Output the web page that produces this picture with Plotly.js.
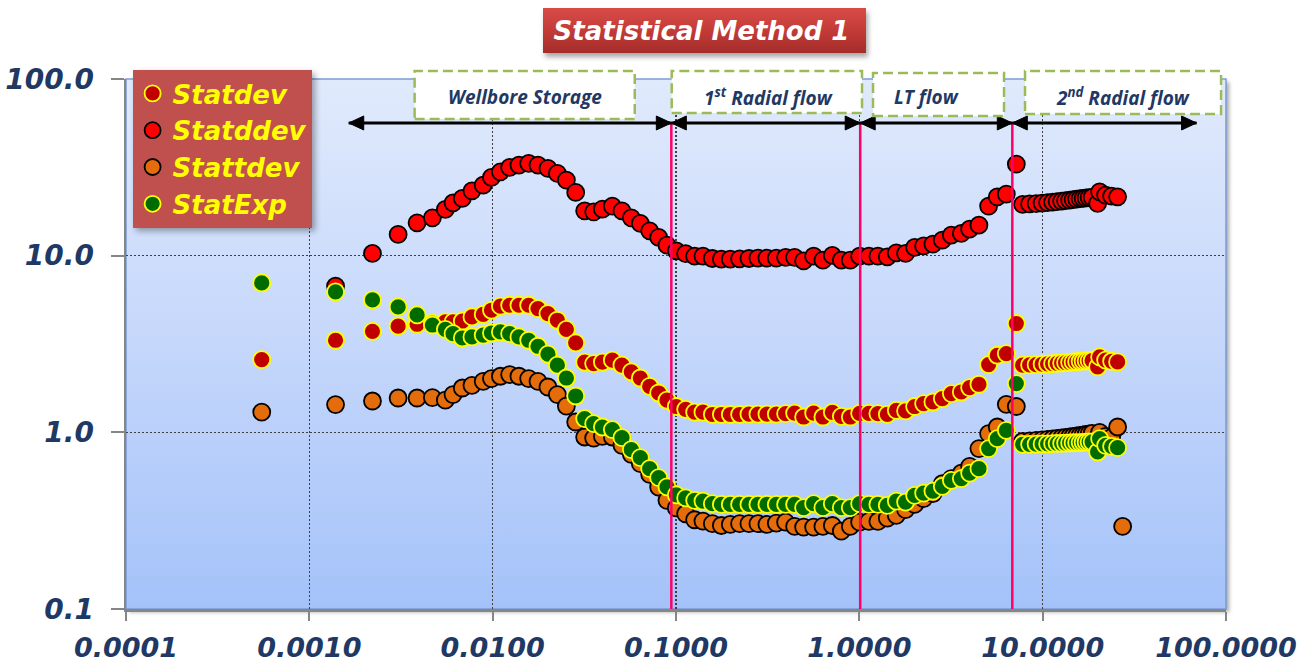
<!DOCTYPE html>
<html>
<head>
<meta charset="utf-8">
<script src="https://cdn.plot.ly/plotly-3.0.1.min.js"></script>
<style>
  html, body { margin: 0; padding: 0; background: #ffffff; }
  #wrap { position: relative; width: 1314px; height: 663px; overflow: hidden; }
  /* gradient plot area and title plate sit behind the transparent plotly layers */
  #plotBg { position: absolute; left: 126px; top: 79px; width: 1100px; height: 530px;
    background: linear-gradient(to bottom, #e0eafc 0%, #c8d9fb 45%, #a4c2f9 100%);
    box-shadow: 3px 3px 4px rgba(0,0,0,0.35); }
  #titleBg { position: absolute; left: 543px; top: 8px; width: 323px; height: 45px;
    background: linear-gradient(to bottom, #d84c48 0%, #c33b37 50%, #a32d2a 100%);
    box-shadow: 2px 4px 5px rgba(0,0,0,0.35); }
  #chart { position: absolute; left: 0; top: 0; width: 1314px; height: 663px; }
  .legend .bg { filter: drop-shadow(3px 3px 3px rgba(0,0,0,0.35)); }
</style>
</head>
<body>
<div id="wrap">
  <div id="plotBg"></div>
  <div id="titleBg"></div>
  <div id="chart"></div>
</div>
<script>
// elapsed time (hr) for every sample
const time = [
  0.00055, 0.00139, 0.00221, 0.00305, 0.00387, 0.00469, 0.00552, 0.00608, 0.00683, 0.00771,
  0.00888, 0.00985, 0.01102, 0.01238, 0.01391, 0.01572, 0.01767, 0.02002, 0.02254, 0.02524,
  0.02837, 0.03175, 0.03556, 0.03967, 0.04496, 0.05072, 0.05706, 0.06390, 0.07184, 0.08042,
  0.08926, 0.1004, 0.1129, 0.1264, 0.1403, 0.1579, 0.1768, 0.1978, 0.2223, 0.2500,
  0.2799, 0.3133, 0.3526, 0.3963, 0.4437, 0.4968, 0.5633, 0.6330, 0.7124, 0.7978,
  0.8932, 1.004, 1.128, 1.263, 1.421, 1.591, 1.788, 2.003, 2.242, 2.520,
  2.836, 3.176, 3.600, 3.996, 4.491, 5.072, 5.656, 6.334, 7.183,
  7.772, 8.488, 9.211, 9.931, 10.64, 11.33, 11.99, 12.69, 13.34, 14.03,
  14.66, 15.32, 16.01, 16.62, 17.26, 17.92, 18.61,
  19.94, 20.45, 22.05, 23.77, 25.63, 27.30
];

const statdev = [
  2.58, 3.32, 3.73, 3.99, 4.09, 4.15, 4.22, 4.22, 4.26, 4.50,
  4.65, 4.91, 5.18, 5.24, 5.24, 5.24, 5.02, 4.70, 4.31, 3.83,
  3.21, 2.50, 2.45, 2.50, 2.56, 2.40, 2.20, 2.03, 1.82, 1.67,
  1.52, 1.40, 1.35, 1.30, 1.30, 1.262, 1.262, 1.262, 1.262, 1.267,
  1.267, 1.267, 1.267, 1.276, 1.286, 1.221, 1.286, 1.221, 1.298, 1.232,
  1.221, 1.281, 1.281, 1.276, 1.265, 1.333, 1.321, 1.40, 1.454, 1.485,
  1.552, 1.657, 1.692, 1.792, 1.871, 2.418, 2.731, 2.792, 4.13,
  2.40, 2.406, 2.416, 2.429, 2.438, 2.448, 2.460, 2.470, 2.479, 2.492,
  2.502, 2.512, 2.525, 2.532, 2.538, 2.545, 2.551,
  2.344, 2.671, 2.563, 2.525, 2.502, null
];

const statddev = [
  null, 6.72, 10.29, 13.19, 15.34, 16.38, 18.27, 19.92, 21.09, 23.29,
  25.08, 27.74, 29.84, 31.60, 32.56, 33.30, 32.56, 31.20, 29.22, 26.78,
  22.81, 17.94, 17.71, 18.34, 19.08, 17.94, 16.38, 15.22, 13.82, 12.68,
  11.47, 10.65, 10.26, 9.94, 9.94, 9.64, 9.55, 9.55, 9.59, 9.64,
  9.68, 9.68, 9.68, 9.77, 9.77, 9.34, 9.94, 9.43, 10.03, 9.43,
  9.43, 9.94, 9.94, 9.94, 9.84, 10.37, 10.29, 11.13, 11.36, 11.62,
  12.24, 13.07, 13.36, 14.13, 14.89, 19.08, 21.54, 22.31, 32.99,
  19.51, 19.63, 19.71, 19.84, 19.97, 20.10, 20.23, 20.36, 20.49, 20.63,
  20.76, 20.90, 21.03, 21.12, 21.23, 21.32, 21.40,
  19.76, 22.99, 22.02, 21.74, 21.54, null
];

const stattdev = [
  1.303, 1.436, 1.504, 1.564, 1.564, 1.573, 1.52, 1.635, 1.782, 1.846,
  1.945, 2.015, 2.077, 2.123, 2.077, 2.015, 1.945, 1.805, 1.635, 1.409,
  1.144, 0.941, 0.928, 0.949, 0.941, 0.844, 0.751, 0.665, 0.578, 0.490,
  0.412, 0.3735, 0.346, 0.320, 0.3144, 0.304, 0.297, 0.301, 0.304, 0.304,
  0.304, 0.301, 0.306, 0.310, 0.2934, 0.2908, 0.2908, 0.2934, 0.297, 0.2760,
  0.2934, 0.310, 0.3132, 0.3132, 0.327, 0.3386, 0.3648, 0.391, 0.421, 0.4494,
  0.512, 0.547, 0.588, 0.642, 0.809, 0.983, 1.072, 1.441, 1.40,
  0.889, 0.895, 0.901, 0.907, 0.913, 0.919, 0.925, 0.931, 0.937, 0.943,
  0.949, 0.955, 0.962, 0.968, 0.974, 0.981, 0.987,
  0.937, 1.0, 0.949, 0.937, 1.072, 0.2934
];

const statExp = [
  7.01, 6.23, 5.62, 5.13, 4.62, 4.05, 3.83, 3.62, 3.42, 3.47,
  3.55, 3.65, 3.70, 3.62, 3.47, 3.32, 3.07, 2.77, 2.40, 2.03,
  1.606, 1.196, 1.120, 1.072, 1.036, 0.933, 0.798, 0.719, 0.623, 0.554,
  0.491, 0.4425, 0.4255, 0.412, 0.408, 0.3945, 0.391, 0.391, 0.391, 0.391,
  0.391, 0.391, 0.391, 0.391, 0.391, 0.3745, 0.3945, 0.3745, 0.3945, 0.3745,
  0.3745, 0.3945, 0.391, 0.391, 0.386, 0.408, 0.403, 0.4396, 0.453, 0.465,
  0.494, 0.535, 0.547, 0.588, 0.623, 0.809, 0.921, 1.026, 1.888,
  0.855, 0.855, 0.858, 0.860, 0.861, 0.863, 0.865, 0.867, 0.869, 0.871,
  0.873, 0.874, 0.875, 0.878, 0.880, 0.882, 0.884,
  0.774, 0.921, 0.844, 0.833, 0.819, null
];

// flow-regime boundaries (hr): start of storage arrow, three regime changes, end of last arrow
const phaseEdges = [0.00164, 0.0943, 1.011, 6.83, 69.1];
const phaseNames = ['Wellbore Storage', '1<sup>st</sup> Radial flow', 'LT flow', '2<sup>nd</sup> Radial flow'];

const xTickVals = [0.0001, 0.001, 0.01, 0.1, 1, 10, 100];
const xTickText = ['0.0001', '0.0010', '0.0100', '0.1000', '1.0000', '10.0000', '100.0000'];
const yTickVals = [0.1, 1, 10, 100];
const yTickText = ['0.1', '1.0', '10.0', '100.0'];

function series(name, y, fill, edge) {
  return {
    type: 'scatter', mode: 'markers', name: name, x: time, y: y,
    marker: { symbol: 'circle', size: 17, color: fill, line: { color: edge, width: 1.8 } },
    hoverinfo: 'skip'
  };
}

const traces = [
  series('Statdev', statdev, '#c00000', '#ffff00'),
  series('Statddev', statddev, '#ff0000', '#000000'),
  series('Stattdev', stattdev, '#e46c0a', '#000000'),
  series('StatExp', statExp, '#006c00', '#ffff00')
];

const boldItalic = (family, size, color) => ({ family: family, size: size, color: color, weight: 'bold', style: 'italic' });
const navy = '#1f3864';
const arrowLevel = 0.917;   // paper height of the regime arrows

// dashed label boxes (paper coordinates) and label anchor points
const boxes = [
  { x0: 0.2624, x1: 0.4625, y0: 0.9245, y1: 1.0151, tx: 0.3627 },
  { x0: 0.4961, x1: 0.6691, y0: 0.9358, y1: 1.0151, tx: 0.5843 },
  { x0: 0.6791, x1: 0.7982, y0: 0.9302, y1: 1.0113, tx: 0.7273 },
  { x0: 0.8173, x1: 0.9955, y0: 0.9340, y1: 1.0151, tx: 0.9064 }
];

const shapes = [
  { type: 'rect', xref: 'paper', yref: 'paper', x0: 0, x1: 1, y0: 0, y1: 1,
    line: { color: '#7b9cd6', width: 1.5 }, layer: 'below' }
];
// regime boundary lines
for (let i = 1; i <= 3; i++) {
  shapes.push({ type: 'line', xref: 'x', yref: 'paper', x0: phaseEdges[i], x1: phaseEdges[i],
    y0: 0, y1: arrowLevel, line: { color: '#ff0066', width: 2.5 }, layer: 'above' });
}
// double-headed regime arrows: a shaft plus a triangular head at each end
const headLeft = 'M0,0 L15,7 L15,-7 Z';
const headRight = 'M0,0 L-15,7 L-15,-7 Z';
for (let i = 0; i < 4; i++) {
  shapes.push({ type: 'line', xref: 'x', yref: 'paper', x0: phaseEdges[i], x1: phaseEdges[i + 1],
    y0: arrowLevel, y1: arrowLevel, line: { color: '#000000', width: 3 }, layer: 'above' });
  [[phaseEdges[i], headLeft], [phaseEdges[i + 1], headRight]].forEach(([edge, path]) => {
    shapes.push({ type: 'path', xref: 'x', yref: 'paper', xsizemode: 'pixel', ysizemode: 'pixel',
      xanchor: edge, yanchor: arrowLevel, path: path, fillcolor: '#000000',
      line: { color: '#000000', width: 1 }, layer: 'above' });
  });
}
boxes.forEach(b => shapes.push({ type: 'rect', xref: 'paper', yref: 'paper',
  x0: b.x0, x1: b.x1, y0: b.y0, y1: b.y1, fillcolor: '#ffffff',
  line: { color: '#9bbb59', width: 2.5, dash: '10px,5px' }, layer: 'above' }));

const annotations = boxes.map((b, i) => ({ xref: 'paper', yref: 'paper', x: b.tx, y: 0.966,
  text: phaseNames[i], showarrow: false, xanchor: 'center', yanchor: 'middle',
  font: boldItalic('Open Sans', 19, navy) }));

const axisCommon = {
  type: 'log', tickmode: 'array', ticks: 'outside', tickwidth: 2, tickcolor: '#868686',
  showline: true, linecolor: '#868686', linewidth: 2.5,
  showgrid: true, gridcolor: '#3f3f3f', gridwidth: 1.5, griddash: '2px,2px',
  zeroline: false, fixedrange: true,
  tickfont: boldItalic('DejaVu Sans', 28, navy)
};

const layout = {
  width: 1314, height: 663,
  margin: { l: 126, r: 88, t: 79, b: 54 },
  paper_bgcolor: 'rgba(0,0,0,0)',
  plot_bgcolor: 'rgba(0,0,0,0)',
  title: { text: 'Statistical Method 1', font: boldItalic('DejaVu Sans', 26, '#ffffff'),
    xref: 'container', x: 0.5339, xanchor: 'center', yref: 'container', y: 0.9532, yanchor: 'middle' },
  xaxis: Object.assign({}, axisCommon, { range: [-4, 2], tickvals: xTickVals, ticktext: xTickText,
    ticklen: 9, ticklabelstandoff: 4, tickfont: boldItalic('DejaVu Sans', 27, navy) }),
  yaxis: Object.assign({}, axisCommon, { range: [-1, 2], tickvals: yTickVals, ticktext: yTickText,
    ticklen: 13, ticklabelstandoff: 11 }),
  showlegend: true,
  legend: { x: 0.006, y: 1.017, xanchor: 'left', yanchor: 'top', bgcolor: '#c0504d',
    borderwidth: 0, traceorder: 'normal', font: boldItalic('DejaVu Sans', 26, '#ffff00') },
  shapes: shapes,
  annotations: annotations
};

Plotly.newPlot('chart', traces, layout, { displayModeBar: false, staticPlot: true });
</script>
</body>
</html>
